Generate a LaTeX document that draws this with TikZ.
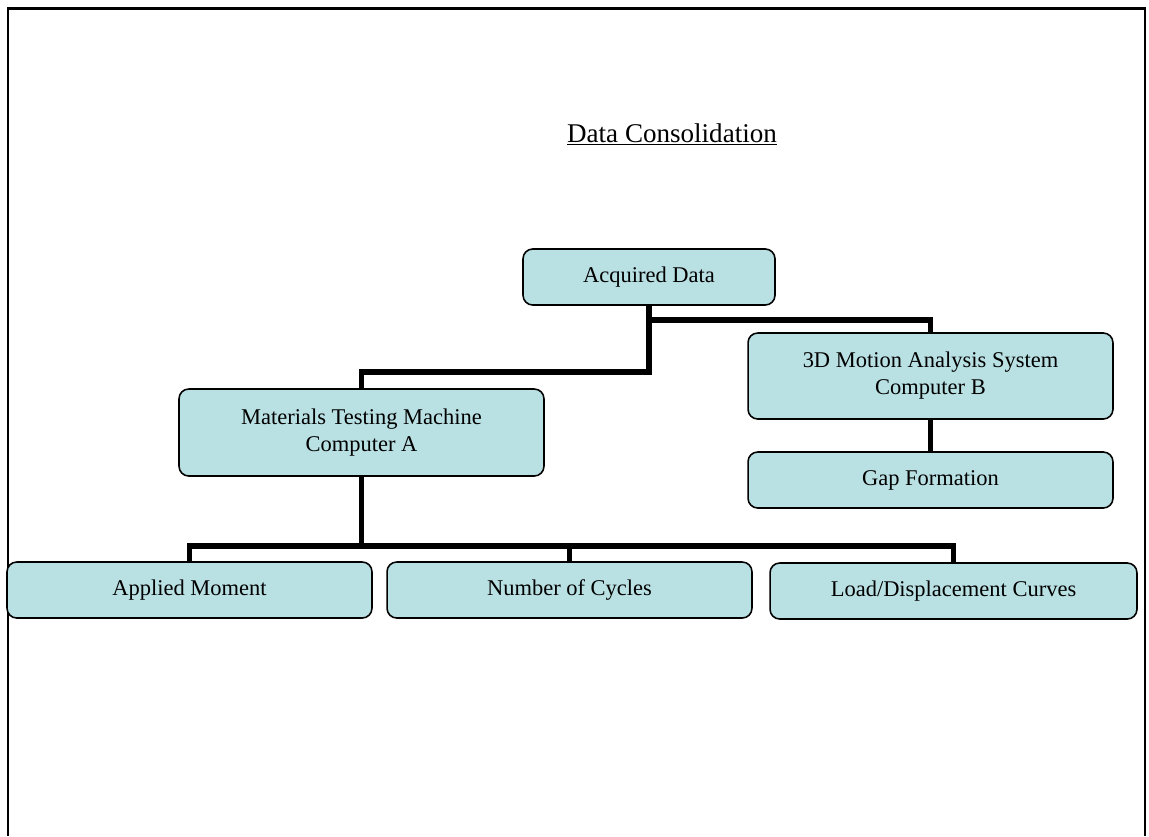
\documentclass[tikz,border=0pt]{standalone}
\usepackage{fontspec}
\setmainfont{Liberation Serif}
\usepackage{tikz}
\definecolor{boxfill}{HTML}{B9E0E3}
\tikzset{%
    databox/.style={draw, line width=0.9pt, fill=boxfill, rounded corners=5.5pt,
        minimum width=7.3cm, minimum height=1.12cm, align=center, outer sep=0pt,
        inner sep=2pt, font=\fontsize{12.8}{15.3}\selectfont},
    link/.style={line width=3.2pt, line join=miter}
}
\begin{document}
\begin{tikzpicture}[x=0.02cm, y=-0.02cm]
    \useasboundingbox (0,0) rectangle (1149,836);

    \draw[line width=1.4pt] (8,836) -- (8,8.5) -- (1145,8.5) -- (1145,836);

    \node[font=\fontsize{15.4}{18}\selectfont, anchor=base] (title) at (672,142) {\underline{Data Consolidation}};

    \node[databox, minimum width=5.04cm] (acq) at (649,277) {Acquired Data};
    \node[databox, minimum height=1.74cm] (mtm) at (361.5,432.5) {Materials Testing Machine\\Computer A};
    \node[databox, minimum height=1.72cm] (mcb) at (930.5,376) {3D Motion Analysis System\\Computer B};
    \node[databox] (gap) at (930.5,480) {Gap Formation};

    \node[databox] (am) at (189.5,590) {Applied Moment};
    \node[databox] (nc) at (569.5,590) {Number of Cycles};
    \node[databox, minimum width=7.34cm] (ld) at (953.5,591) {Load/Displacement Curves};

    \coordinate (busB) at (0,320);
    \coordinate (busA) at (0,372);
    \coordinate (busC) at (0,546);

    \draw[link] (acq.south) -- (acq.south |- busB) -| (mcb.north);
    \draw[link] (acq.south |- busB) -- (acq.south |- busA) -| (mtm.north);
    \draw[link] (mcb.south) -- (gap.north);

    \draw[link] (mtm.south) -- (mtm.south |- busC);
    \draw[link] (am.north) |- (ld.north |- busC) -- (ld.north);
    \draw[link] (nc.north) -- (nc.north |- busC);
\end{tikzpicture}
\end{document}
